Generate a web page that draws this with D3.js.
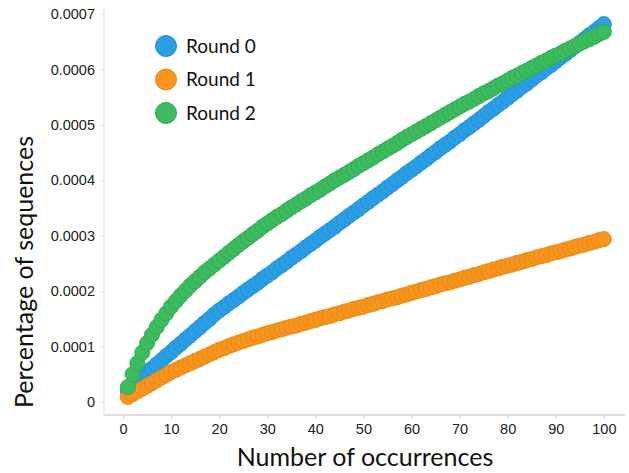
<!DOCTYPE html>
<html>
<head>
<meta charset="utf-8">
<script src="https://cdn.jsdelivr.net/npm/d3@7"></script>
<style>
  html, body { margin: 0; padding: 0; background: #fff; }
  svg { display: block; }
</style>
</head>
<body>
<div id="chart"></div>
<script>
// ---- data ----
const occurrences = d3.range(1, 101); // 1..100 (category positions)
const seriesNames = ["Round 0", "Round 1", "Round 2"];
const seriesColors = ["#2a9fe6", "#f7951e", "#3dbb5f"];
const seriesStrokes = ["#1f8dd3", "#e3860f", "#2fa850"];

const round0 = [
0.000020,0.000028,0.000036,0.000044,0.000052,0.000060,0.000068,0.000075,0.000083,0.000090,
0.000098,0.000105,0.000113,0.000120,0.000128,0.000135,0.000143,0.000150,0.000158,0.000165,
0.000171,0.000178,0.000184,0.000190,0.000197,0.000203,0.000209,0.000215,0.000222,0.000228,
0.000234,0.000241,0.000247,0.000253,0.000260,0.000266,0.000272,0.000279,0.000285,0.000291,
0.000298,0.000304,0.000310,0.000316,0.000323,0.000329,0.000336,0.000342,0.000348,0.000355,
0.000361,0.000368,0.000374,0.000380,0.000387,0.000393,0.000400,0.000406,0.000413,0.000419,
0.000425,0.000432,0.000438,0.000445,0.000451,0.000458,0.000464,0.000470,0.000477,0.000483,
0.000490,0.000496,0.000503,0.000509,0.000516,0.000523,0.000529,0.000536,0.000542,0.000549,
0.000556,0.000562,0.000569,0.000575,0.000582,0.000589,0.000595,0.000602,0.000608,0.000615,
0.000622,0.000628,0.000635,0.000642,0.000648,0.000655,0.000662,0.000668,0.000675,0.000682];

const round1 = [
0.000009,0.000014,0.000019,0.000024,0.000029,0.000034,0.000039,0.000044,0.000049,0.000054,
0.000058,0.000062,0.000066,0.000070,0.000074,0.000078,0.000082,0.000086,0.000090,0.000094,
0.000097,0.000101,0.000104,0.000107,0.000110,0.000113,0.000116,0.000118,0.000121,0.000124,
0.000126,0.000129,0.000131,0.000134,0.000136,0.000138,0.000141,0.000143,0.000146,0.000148,
0.000151,0.000153,0.000155,0.000158,0.000160,0.000163,0.000165,0.000168,0.000170,0.000172,
0.000175,0.000177,0.000180,0.000182,0.000185,0.000187,0.000189,0.000192,0.000194,0.000197,
0.000199,0.000202,0.000204,0.000207,0.000209,0.000212,0.000214,0.000216,0.000219,0.000221,
0.000224,0.000226,0.000229,0.000231,0.000234,0.000236,0.000239,0.000241,0.000244,0.000246,
0.000248,0.000251,0.000253,0.000256,0.000258,0.000261,0.000263,0.000265,0.000268,0.000270,
0.000272,0.000275,0.000277,0.000280,0.000282,0.000284,0.000287,0.000289,0.000292,0.000294];

const round2 = [
0.000027,0.000050,0.000070,0.000089,0.000106,0.000121,0.000135,0.000148,0.000160,0.000172,
0.000182,0.000192,0.000201,0.000210,0.000218,0.000226,0.000234,0.000241,0.000248,0.000255,
0.000262,0.000269,0.000276,0.000283,0.000290,0.000296,0.000303,0.000309,0.000316,0.000322,
0.000328,0.000334,0.000339,0.000345,0.000351,0.000356,0.000362,0.000367,0.000373,0.000378,
0.000383,0.000389,0.000394,0.000400,0.000405,0.000410,0.000415,0.000420,0.000426,0.000431,
0.000436,0.000441,0.000447,0.000452,0.000457,0.000462,0.000467,0.000473,0.000478,0.000483,
0.000488,0.000493,0.000498,0.000503,0.000508,0.000513,0.000518,0.000523,0.000528,0.000533,
0.000538,0.000542,0.000547,0.000552,0.000557,0.000561,0.000566,0.000571,0.000575,0.000580,
0.000585,0.000589,0.000594,0.000598,0.000603,0.000607,0.000612,0.000616,0.000621,0.000625,
0.000629,0.000634,0.000638,0.000642,0.000647,0.000651,0.000655,0.000659,0.000664,0.000668];

const xTicks = [0, 10, 20, 30, 40, 50, 60, 70, 80, 90, 100];
const yTicks = [0, 0.0001, 0.0002, 0.0003, 0.0004, 0.0005, 0.0006, 0.0007];
const yTickLabels = ["0", "0.0001", "0.0002", "0.0003", "0.0004", "0.0005", "0.0006", "0.0007"];
const xTitle = "Number of occurrences";
const yTitle = "Percentage of sequences";

// ---- layout ----
const W = 629, H = 473;
const plot = { left: 104, right: 625, top: 8, bottom: 415 };

const svg = d3.select("#chart").append("svg").attr("width", W).attr("height", H);

const x = d3.scaleLinear().domain([-3.95, 104.4]).range([plot.left, plot.right]);
const y = d3.scaleLinear().domain([-0.0000235, 0.000711]).range([plot.bottom, plot.top]);

// axes
const xAxis = svg.append("g")
  .attr("transform", `translate(0,${plot.bottom})`)
  .call(d3.axisBottom(x).tickValues(xTicks).tickSize(4).tickPadding(5).tickFormat(d3.format("d")));
xAxis.select(".domain").attr("stroke", "#d3d3d3").attr("stroke-width", 1.5)
  .attr("d", `M${plot.left},0H${plot.right}`);
xAxis.selectAll(".tick line").attr("stroke", "#d3d3d3");
xAxis.selectAll(".tick text")
  .attr("font-family", "'Liberation Sans', Arial, sans-serif")
  .attr("font-size", 14.5).attr("fill", "#222");

const yAxis = svg.append("g")
  .attr("transform", `translate(${plot.left},0)`)
  .call(d3.axisLeft(y).tickValues(yTicks).tickSize(4).tickPadding(5)
    .tickFormat((d, i) => yTickLabels[i]));
yAxis.select(".domain").attr("stroke", "#e3e3e3").attr("stroke-width", 1.2)
  .attr("d", `M0,${plot.top}V${plot.bottom}`);
yAxis.selectAll(".tick line").attr("stroke", "#e0e0e0");
yAxis.selectAll(".tick text")
  .attr("font-family", "'Liberation Sans', Arial, sans-serif")
  .attr("font-size", 14.5).attr("fill", "#222");

// titles
svg.append("text")
  .attr("x", 365).attr("y", 466)
  .attr("text-anchor", "middle")
  .attr("font-family", "Lato, 'Open Sans', sans-serif")
  .attr("font-size", 25).attr("fill", "#111")
  .text(xTitle);

svg.append("text")
  .attr("transform", "translate(33,272) rotate(-90)")
  .attr("text-anchor", "middle")
  .attr("font-family", "Lato, 'Open Sans', sans-serif")
  .attr("font-size", 25).attr("fill", "#111")
  .text(yTitle);

// series
const allSeries = [round0, round1, round2];
allSeries.forEach((vals, si) => {
  svg.append("g").selectAll("circle")
    .data(vals)
    .join("circle")
    .attr("cx", (d, i) => x(occurrences[i]))
    .attr("cy", d => y(d))
    .attr("r", 7.6)
    .attr("fill", seriesColors[si])
    .attr("stroke", seriesStrokes[si])
    .attr("stroke-width", 0.8);
});

// legend
const legend = svg.append("g");
seriesNames.forEach((name, i) => {
  const cy = 46 + i * 33.5;
  legend.append("circle")
    .attr("cx", 166).attr("cy", cy).attr("r", 10.5)
    .attr("fill", seriesColors[i]).attr("stroke", seriesStrokes[i]).attr("stroke-width", 1);
  legend.append("text")
    .attr("x", 186).attr("y", cy + 6.5)
    .attr("font-family", "Lato, 'Open Sans', sans-serif")
    .attr("font-size", 19).attr("fill", "#111")
    .text(name);
});
</script>
</body>
</html>
